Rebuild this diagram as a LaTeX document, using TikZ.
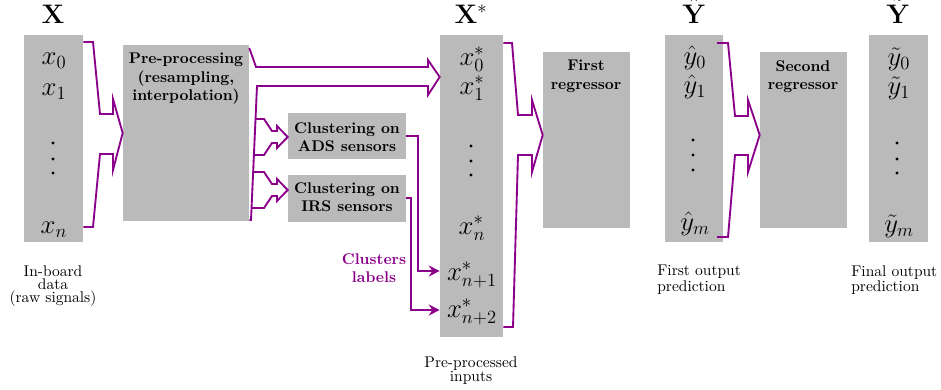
\documentclass[tikz,border=0pt]{standalone}
\usetikzlibrary{fit,arrows.meta}

\definecolor{flow}{RGB}{139,0,139}
\definecolor{panelgray}{RGB}{186,186,186}

\begin{document}
\begin{tikzpicture}[x=0.645pt,y=-0.645pt,
  panel/.style={fill=panelgray, draw=none, inner sep=0pt},
  conn/.style={draw=flow, line width=1.2pt, line join=miter},
  tip/.style={-{Stealth[length=7pt,width=7pt]}},
  tag/.style={font=\bfseries\fontsize{10}{11.8}\selectfont, align=center, anchor=north, inner sep=0pt},
  caption/.style={font=\fontsize{10}{8.5}\selectfont, align=center, anchor=north, inner sep=0pt},
  entry/.style={font=\LARGE, anchor=base, inner sep=0pt},
  head/.style={font=\LARGE, anchor=base, inner sep=0pt},
]
\useasboundingbox (0,0) rectangle (941,389);

% ---- grey panels ----
\node[panel, fit={(24,35) (83,242)}]   (X)    {};
\node[panel, fit={(123,45) (249,221)}] (Pre)  {};
\node[panel, fit={(288,113) (406,159)}] (ADS) {};
\node[panel, fit={(288,175) (406,222)}] (IRS) {};
\node[panel, fit={(440,35) (503,337)}] (Xs)   {};
\node[panel, fit={(543,52) (630,228)}] (Reg1) {};
\node[panel, fit={(665,35) (723,242)}] (Yh)   {};
\node[panel, fit={(760,52) (847,228)}] (Reg2) {};
\node[panel, fit={(869,35) (928,242)}] (Yt)   {};

% ---- column headers ----
\node[head] (hX)  at (53,23)  {$\mathbf{X}$};
\node[head] (hXs) at (471,23) {$\mathbf{X}^{*}$};
\node[head] (hYh) at (694,23) {$\hat{\mathbf{Y}}$};
\node[head] (hYt) at (898,23) {$\tilde{\mathbf{Y}}$};

% ---- raw inputs ----
\node[entry] (x0) at (54,64)  {$x_0$};
\node[entry] (x1) at (54,95)  {$x_1$};
\node[entry] (xn) at (54,233) {$x_n$};
\foreach \yy in {143,159,173} \fill (53,\yy) circle (1.6);

% ---- pre-processed inputs ----
\node[entry] (s0)  at (472,65)  {$x^{*}_{0}$};
\node[entry] (s1)  at (472,94)  {$x^{*}_{1}$};
\node[entry] (sn)  at (472,234) {$x^{*}_{n}$};
\node[entry] (sn1) at (472,280) {$x^{*}_{n+1}$};
\node[entry] (sn2) at (472,317) {$x^{*}_{n+2}$};
\foreach \yy in {146,161,175} \fill (471,\yy) circle (1.6);

% ---- first output ----
\node[entry] (h0) at (695,64)  {$\hat{y}_0$};
\node[entry] (h1) at (695,93)  {$\hat{y}_1$};
\node[entry] (hm) at (695,230) {$\hat{y}_m$};
\foreach \yy in {140,155,170} \fill (693,\yy) circle (1.6);

% ---- final output ----
\node[entry] (t0) at (899,65)  {$\tilde{y}_0$};
\node[entry] (t1) at (899,94)  {$\tilde{y}_1$};
\node[entry] (tm) at (899,232) {$\tilde{y}_m$};
\foreach \yy in {143,159,173} \fill (897,\yy) circle (1.6);

% ---- texts in the processing blocks ----
\node[tag] (tPre) at (186,53)  {Pre-processing\\(resampling,\\interpolation)};
\node[tag] (tADS) at (347,122) {Clustering on\\ADS sensors};
\node[tag] (tIRS) at (347,182) {Clustering on\\IRS sensors};
\node[tag] (tR1)  at (586,60)  {First\\regressor};
\node[tag] (tR2)  at (803,60)  {Second\\regressor};
\node[tag, text=flow] (tCl) at (374,253) {Clusters\\labels};

% ---- captions ----
\node[caption] (cX)  at (53,265)  {In-board\\data\\(raw signals)};
\node[caption] (cXs) at (471,356) {Pre-processed\\inputs};
\node[caption, align=left, anchor=north west] (cYh) at (657,265) {First output\\prediction};
\node[caption, align=left, anchor=north west] (cYt) at (851,265) {Final output\\prediction};

% ---- raw data into pre-processing ----
\draw[conn] (X.east |- 0,42) -- (93,42) -- (100,114) -- (113,114) -- (113,99)
  -- (Pre.west |- 0,133) -- (113,170) -- (113,154) -- (100,154) -- (93,227)
  -- (X.east |- 0,227);

% ---- pre-processing into the pre-processed inputs ----
\draw[conn] (Pre.east |- 0,48) -- (256,67) -- (428,67) -- (428,60)
  -- (Xs.west |- 0,77) -- (428,95) -- (428,86) -- (257,86) -- (251,220)
  -- (Pre.east |- 0,220);

% ---- branches into the two clustering blocks ----
\draw[conn] (255.5,119) -- (264,119) -- (272,131) -- (277,131) -- (277,126)
  -- (ADS.west |- 0,137) -- (277,148) -- (277,143) -- (272,143) -- (264,155)
  -- (253.9,155);
\draw[conn] (253.1,172) -- (264,172) -- (272,184) -- (277,184) -- (277,179)
  -- (IRS.west |- 0,190) -- (277,201) -- (277,196) -- (272,196) -- (264,208)
  -- (251.5,208);

% ---- cluster labels appended to the inputs ----
\draw[conn, tip] (ADS.east |- 0,136) -- (418,136) -- (418,271) -- (Xs.west |- 0,271);
\draw[conn, tip] (IRS.east |- 0,198) -- (411,198) -- (411,310) -- (Xs.west |- 0,310);

% ---- pre-processed inputs into the first regressor ----
\draw[conn] (Xs.east |- 0,43) -- (512,43) -- (518,115) -- (532,115) -- (532,100)
  -- (Reg1.west |- 0,135) -- (532,172) -- (532,155) -- (518,155) -- (513,327)
  -- (Xs.east |- 0,327);

% ---- first output into the second regressor ----
\draw[conn] (717,43) -- (728,43) -- (735,116) -- (748,116) -- (748,100)
  -- (Reg2.west |- 0,135) -- (748,172) -- (748,155) -- (735,155) -- (728,237)
  -- (717,237);
\end{tikzpicture}
\end{document}
